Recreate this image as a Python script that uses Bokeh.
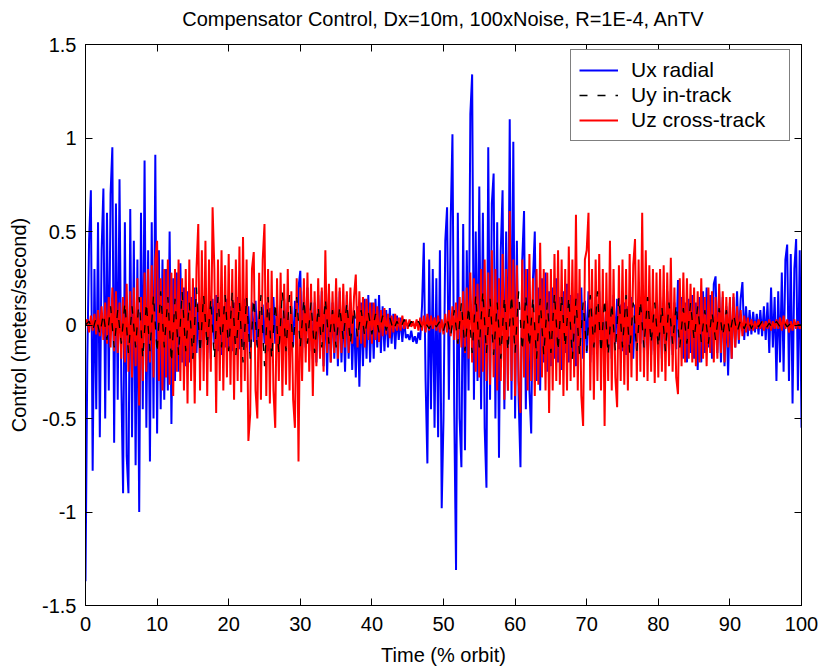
import numpy as np
from bokeh.plotting import figure
from bokeh.models import (Range1d, LinearAxis, FixedTicker, CustomJSTickFormatter,
                          Legend, LegendItem)
from bokeh.embed import file_html
from bokeh.resources import INLINE

title_text = "Compensator Control, Dx=10m, 100xNoise, R=1E-4, AnTV"
x_label = "Time (% orbit)"
y_label = "Control (meters/second)"
x_ticks = [0, 10, 20, 30, 40, 50, 60, 70, 80, 90, 100]
y_ticks = [-1.5, -1, -0.5, 0, 0.5, 1, 1.5]
series_names = ["Ux radial", "Uy in-track", "Uz cross-track"]

# control values in hundredths of m/s (0 .. 100 % orbit)
ux_radial_cm = [
    -137, -20, 45, 72, -78, 30, -45, 55, -60, 40, 73, -50, 60, -35, 70, 95, -63, 65, -40, 78,
    -30, -90, 55, -70, -90, 62, -60, 45, -75, 35, -100, 60, -45, 88, -55, 40, -73, 55, -50, 91,
    -58, 40, -45, 35, -40, 30, -35, 50, -53, 25, -30, 28, -25, 33, -20, 20, -22, 18, -20, 15,
    -18, 20, -15, 12, -20, 15, -12, 18, -15, 10, -18, 14, -10, 16, -14, 12, -16, 10, -12, 14,
    -12, 10, -14, 12, -10, 15, -13, 9, -11, 14, -12, 10, -15, 12, -9, 13, -11, 10, -14, 11,
    -10, 12, -14, 9, -12, 15, -10, 11, -13, 10, -12, 14, -9, 12, -15, 10, -11, 13, -10, 20,
    29, -15, 18, -12, 20, -14, 15, -18, 12, -20, 16, -15, 18, -22, 14, -27, 17, -20, 12, -18,
    15, -22, 18, -20, 10, -25, 16, -18, 12, -24, 8, -28, 10, -33, 12, -22, 14, -18, 16, -20,
    12, -18, 14, -12, 16, -15, 10, -14, 8, -12, 9, -10, 6, -13, 5, -8, 4, -9, 3, -7,
    -5, -8, -3, -9, -6, -10, -4, -8, 10, 44, -30, -74, 35, -45, 30, -55, 25, -60, 40, -98,
    -50, 45, 63, -40, 55, 102, -45, -131, 60, -50, -76, 54, -67, 40, -35, 113, 134, -40, 50, -30,
    74, -45, 60, -55, -87, 95, -40, 65, 81, -50, 55, -71, 40, 72, -45, 50, -35, 110, -40, 98,
    -50, 45, -40, -76, 35, 61, -45, 30, -35, -58, 25, 50, -30, 20, -35, 25, -20, 28, -25, 18,
    -22, 20, -18, 25, -20, 15, -24, 18, -15, 22, -20, 16, -18, 14, -22, 17, -15, 20, -18, 13,
    -15, 18, -20, 12, -16, 15, -12, 18, -14, 10, -17, 13, -15, 12, -18, 16, -10, 14, -13, 11,
    -14, 12, -16, 10, -12, 15, -18, 11, -13, 14, -10, 16, -15, 12, -11, 13, -16, 10, -14, 12,
    -12, 15, -18, 12, -15, 18, -14, 10, -16, 12, -13, 24, -10, 15, -18, 12, -20, 14, -15, 16,
    -18, 12, -24, 15, -20, 18, -15, 20, -12, 16, -18, 22, 26, -15, 18, -20, 15, -22, 10, -27,
    12, -18, 15, -12, 18, -10, 14, 23, -8, 10, -6, 8, -5, 7, -4, 6, -5, 8, -6, 10,
    -8, 12, -15, 20, -12, 15, -30, 18, -20, 28, -25, 35, 43, -30, 38, -42, 30, 46, -35, 40,
    -55,
]

uy_in_track_cm = [
    0, 2, -3, 4, -5, 6, -8, 10, -12, 8, -10, 12, -15, 10, -12, 15, -18, 12, -14, 16,
    -15, 18, -12, 15, -20, 14, -16, 18, -14, 12, -18, 20, -15, 16, -12, 14, -18, 15, -12, 16,
    -14, 18, -16, 12, -20, 15, -18, 14, -12, 16, -22, 15, -18, 12, -15, 18, -14, 16, -12, 15,
    -12, 14, -10, 12, -15, 10, -12, 14, -10, 8, -12, 10, -8, 12, -10, 9, -7, 8, -6, 7,
    -5, 6, -4, 5, -3, 4, -3, 2, -2, 3, -2, 2, -1, 2, -2, 1, -2, 2, -1, 2,
    -3, 4, -6, 8, -10, 12, -14, 10, -15, 16, -12, 18, -15, 14, -16, 12, -18, 15, -14, 16,
    -15, 18, -14, 16, -12, 15, -18, 14, -16, 12, -15, 17, -14, 16, -12, 15, -18, 14, -16, 12,
    -14, 16, -12, 18, -15, 14, -16, 12, -14, 15, -12, 16, -15, 12, -14, 13, -12, 15, -10, 12,
    -12, 10, -14, 12, -10, 11, -12, 9, -10, 12, -8, 10, -9, 8, -10, 7, -8, 9, -6, 8,
    -5, 6, -4, 3, -2, 3, -2, 2, -1, 2, -2, 1, -2, 2, -1, 2, -1, 1, -1, 0,
    0,
]

uz_cross_track_cm = [
    0, 3, -4, 5, -3, 6, -5, 8, -6, 10, -8, 12, -10, 15, -12, 20, -14, 18, -15, 12,
    -18, 15, -20, 22, -25, 18, -28, 20, -22, 25, -43, 15, -30, 28, -25, 30, -20, 32, -28, 35,
    45, -30, 25, -35, 30, -28, 35, -32, 28, -38, 30, -25, 35, -30, 25, -35, 30, -42, 35, -30,
    25, -42, 30, 54, -35, 40, -30, 45, -38, 35, -25, 63, 30, -47, 35, -30, 40, -35, 32, -28,
    38, -32, 30, -40, 35, -30, 42, -36, 47, -30, 35, -62, -48, 30, 39, -35, -50, 28, -40, 35,
    54, -38, 30, -42, 29, -35, -55, 25, -30, 28, -38, 22, -32, 30, -35, 18, -40, -55, 25, -73,
    20, -30, 25, -20, 28, -25, 22, -38, 18, -22, 25, -18, 20, -25, 40, -15, 22, -20, 18, -15,
    25, -18, 20, -15, 22, -12, 18, -15, 20, -10, 15, 27, -12, 18, -10, 15, -12, 14, -8, 12,
    -10, 12, -8, 10, -9, 8, -6, 9, -5, 6, -7, 5, -4, 6, -3, 4, -3, 5, -2, 3,
    -2, 3, -1, 2, -2, 3, -3, 4, -3, 5, -4, 6, -3, 5, -2, 4, -3, 5, -4, 3,
    -5, 6, -4, 8, -6, 10, -8, 12, -10, 15, -12, 18, -15, 20, -18, 28, -20, 25, -25, 22,
    -28, 30, -25, 35, -30, 28, -32, 40, -28, 30, -35, 25, -30, 38, -40, 30, -35, 61, -30, 35,
    -38, 32, -30, -47, 35, -28, 30, -35, 38, -30, 25, -38, 30, -32, 44, -28, 30, -35, 28, -47,
    30, -35, 38, -30, 40, -32, 35, -38, 30, -35, 42, -30, 35, -28, 59, -35, 30, -38, -54, 35,
    40, 60, -35, 30, -40, 35, -30, 38, -35, 30, -54, 28, -30, 45, -35, 30, -28, -44, 32, -30,
    35, -32, 30, -35, 38, -28, 32, 46, -30, 35, -25, 60, -28, 40, -30, 32, -25, 30, -31, 28,
    -28, 30, -25, 32, -30, 28, -22, 36, -25, 20, -28, -37, 25, -22, 28, -20, 25, -18, 22, -20,
    20, -22, 18, -20, 25, -18, 15, -22, 20, -15, 18, -20, 15, -18, 22, -15, 18, -20, 15, -12,
    15, -18, 17, -12, 10, -8, 8, -6, 5, -4, 4, -3, 3, -3, 2, -2, 3, -2, 2, -3,
    2, -2, 3, -3, 2, -2, 3, -2, 4, -3, 5, -2, 3, -4, 2, -3, 3, -2, 2, -2,
    0,
]

ux = np.array(ux_radial_cm) / 100.0
uy = np.array(uy_in_track_cm) / 100.0
uz = np.array(uz_cross_track_cm) / 100.0
t_ux = np.linspace(0, 100, len(ux))
t_uy = np.linspace(0, 100, len(uy))
t_uz = np.linspace(0, 100, len(uz))

FONT = "Liberation Sans"

p = figure(width=822, height=668, output_backend="svg", toolbar_location=None,
           x_range=Range1d(0, 100), y_range=Range1d(-1.5, 1.5),
           min_border_left=85, min_border_right=21, min_border_top=44, min_border_bottom=62)
p.background_fill_color = "white"
p.border_fill_color = "white"
p.outline_line_color = "black"
p.outline_line_width = 1
p.xgrid.visible = False
p.ygrid.visible = False

fmt = CustomJSTickFormatter(code="return tick.toString();")

for ax, ticks in ((p.xaxis[0], x_ticks), (p.yaxis[0], y_ticks)):
    ax.ticker = FixedTicker(ticks=ticks)
    ax.formatter = fmt
    ax.major_tick_in = 7
    ax.major_tick_out = 0
    ax.minor_tick_in = 0
    ax.minor_tick_out = 0
    ax.axis_line_color = "black"
    ax.major_tick_line_color = "black"
    ax.major_label_text_font = FONT
    ax.major_label_text_font_size = "20px"
    ax.major_label_text_color = "black"
    ax.axis_label_text_font = FONT
    ax.axis_label_text_font_size = "20px"
    ax.axis_label_text_font_style = "normal"
    ax.axis_label_text_color = "black"

p.xaxis[0].axis_label = x_label
p.yaxis[0].axis_label = y_label
p.xaxis[0].major_label_standoff = 11
p.yaxis[0].major_label_standoff = 9
p.xaxis[0].axis_label_standoff = 10
p.yaxis[0].axis_label_standoff = 9

# box axes: top axis carries the chart title as its label, right axis only ticks
top_axis = LinearAxis(ticker=FixedTicker(ticks=x_ticks), major_label_text_font_size="0px",
                      major_tick_in=7, major_tick_out=0, minor_tick_in=0, minor_tick_out=0,
                      major_label_standoff=0, axis_line_color="black",
                      major_tick_line_color="black",
                      axis_label=title_text, axis_label_standoff=15,
                      axis_label_text_font=FONT, axis_label_text_font_size="20px",
                      axis_label_text_font_style="normal", axis_label_text_color="black")
p.add_layout(top_axis, "above")
right_axis = LinearAxis(ticker=FixedTicker(ticks=y_ticks), major_label_text_font_size="0px",
                        major_tick_in=7, major_tick_out=0, minor_tick_in=0, minor_tick_out=0,
                        major_label_standoff=0, axis_line_color="black",
                        major_tick_line_color="black")
p.add_layout(right_axis, "right")

r_ux = p.line(t_ux, ux, line_color="#0000ff", line_width=2)
r_uz = p.line(t_uz, uz, line_color="#ff0000", line_width=2)
r_uy = p.line(t_uy, uy, line_color="black", line_width=1.3, line_dash="8 10")

legend = Legend(items=[LegendItem(label=series_names[0], renderers=[r_ux]),
                       LegendItem(label=series_names[1], renderers=[r_uy]),
                       LegendItem(label=series_names[2], renderers=[r_uz])],
                location=(485, 464))
legend.label_text_font = FONT
legend.label_text_font_size = "21px"
legend.label_text_color = "black"
legend.glyph_width = 39
legend.glyph_height = 20
legend.label_standoff = 13
legend.label_width = 150
legend.padding = 8
legend.spacing = 1
legend.margin = 0
legend.border_line_color = "black"
legend.border_line_width = 1
legend.background_fill_color = "white"
legend.background_fill_alpha = 1
p.add_layout(legend)

open("out.html", "w").write(file_html(p, INLINE))
